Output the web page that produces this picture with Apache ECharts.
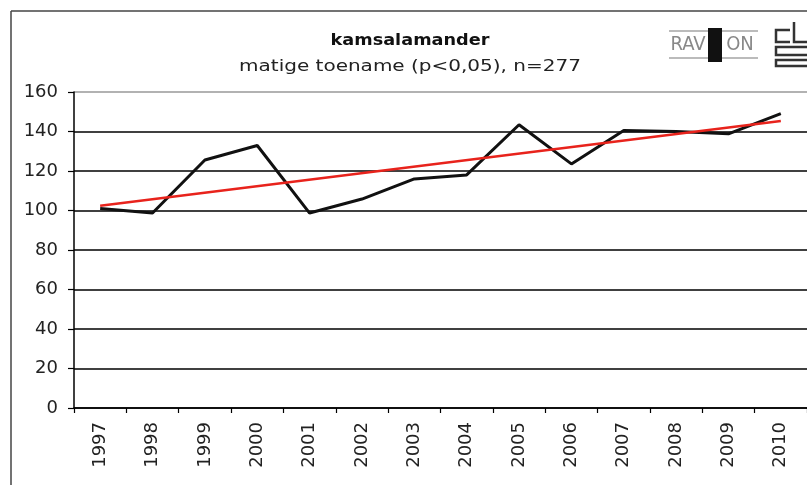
<!DOCTYPE html>
<html><head><meta charset="utf-8">
<script src="https://cdn.jsdelivr.net/npm/echarts@6/dist/echarts.min.js"></script>
<style>html,body{margin:0;padding:0;background:#fff}#c{width:807px;height:485px}</style>
</head><body><div id="c"></div>
<script>
const years = ['1997','1998','1999','2000','2001','2002','2003','2004','2005','2006','2007','2008','2009','2010'];
const counts = [101, 98.7, 125.6, 132.9, 98.7, 105.8, 116, 118, 143.4, 123.6, 140.5, 140, 138.8, 149];
const trendYears = ['1997', '2010'];
const trendValues = [102.4, 145.3];
const titleText = 'kamsalamander';
const subtitleText = 'matige toename (p<0,05), n=277';

const chart = echarts.init(document.getElementById('c'), null, {renderer: 'canvas'});
const FONT = '"DejaVu Sans", Verdana, sans-serif';
const NARROW = '"Liberation Sans Narrow", "DejaVu Sans Condensed", sans-serif';
chart.setOption({
  animation: false,
  backgroundColor: '#fff',
  grid: {left: 74, right: 0, top: 92, bottom: 77, containLabel: false},
  xAxis: {
    type: 'category', data: years, boundaryGap: true,
    axisLine: {lineStyle: {color: '#000', width: 1.5}},
    axisTick: {show: true, length: 5, lineStyle: {color: '#000', width: 1.2}},
    axisLabel: {rotate: 90, margin: 14, color: '#222', fontFamily: FONT, fontSize: 18, interval: 0}
  },
  yAxis: {
    type: 'value', min: 0, max: 160, interval: 20,
    axisLine: {show: true, lineStyle: {color: '#000', width: 1.5}},
    axisTick: {show: true, length: 6, lineStyle: {color: '#000', width: 1.2}},
    axisLabel: {margin: 16, color: '#222', fontFamily: FONT, fontSize: 18},
    splitLine: {show: true, lineStyle: {color: ['#000','#000','#000','#000','#000','#000','#000','#000','#999'], width: 1.5}}
  },
  series: [
    {type: 'line', data: counts, symbol: 'none', lineStyle: {color: '#111', width: 3}, z: 2},
    {type: 'line', data: trendYears.map((y, i) => [y, trendValues[i]]), symbol: 'none', lineStyle: {color: '#e8231c', width: 2.5}, z: 3}
  ],
  graphic: [
    {type: 'line', shape: {x1: 11, y1: 11, x2: 807, y2: 11}, style: {stroke: '#444', lineWidth: 1.5}},
    {type: 'line', shape: {x1: 11, y1: 11, x2: 11, y2: 485}, style: {stroke: '#444', lineWidth: 1.5}},
    {type: 'text', x: 410, y: 41, scaleX: 1.18, style: {text: titleText, font: 'bold 15px ' + FONT, fill: '#111', textAlign: 'center', textVerticalAlign: 'middle'}},
    {type: 'text', x: 410, y: 67, scaleX: 1.25, style: {text: subtitleText, font: '16px ' + FONT, fill: '#222', textAlign: 'center', textVerticalAlign: 'middle'}},
    {type: 'line', shape: {x1: 669, y1: 31, x2: 758, y2: 31}, style: {stroke: '#bbb', lineWidth: 2}},
    {type: 'line', shape: {x1: 669, y1: 58, x2: 758, y2: 58}, style: {stroke: '#bbb', lineWidth: 2}},
    {type: 'text', x: 688, y: 45, style: {text: 'RAV', font: '20px ' + NARROW, fill: '#888', textAlign: 'center', textVerticalAlign: 'middle'}},
    {type: 'rect', shape: {x: 708, y: 28, width: 14, height: 34}, style: {fill: '#111'}},
    {type: 'text', x: 740, y: 45, style: {text: 'ON', font: '20px ' + NARROW, fill: '#888', textAlign: 'center', textVerticalAlign: 'middle'}},
    {type: 'polyline', shape: {points: [[790,42],[776,42],[776,30],[790,30]]}, style: {stroke: '#333', lineWidth: 2.5, fill: null}},
    {type: 'polyline', shape: {points: [[794,22],[794,42],[807,42]]}, style: {stroke: '#333', lineWidth: 2.5, fill: null}},
    {type: 'polyline', shape: {points: [[807,47],[776,47],[776,55],[807,55]]}, style: {stroke: '#333', lineWidth: 2.5, fill: null}},
    {type: 'polyline', shape: {points: [[807,60],[776,60],[776,66],[807,66]]}, style: {stroke: '#333', lineWidth: 2.5, fill: null}}
  ]
});
</script></body></html>
